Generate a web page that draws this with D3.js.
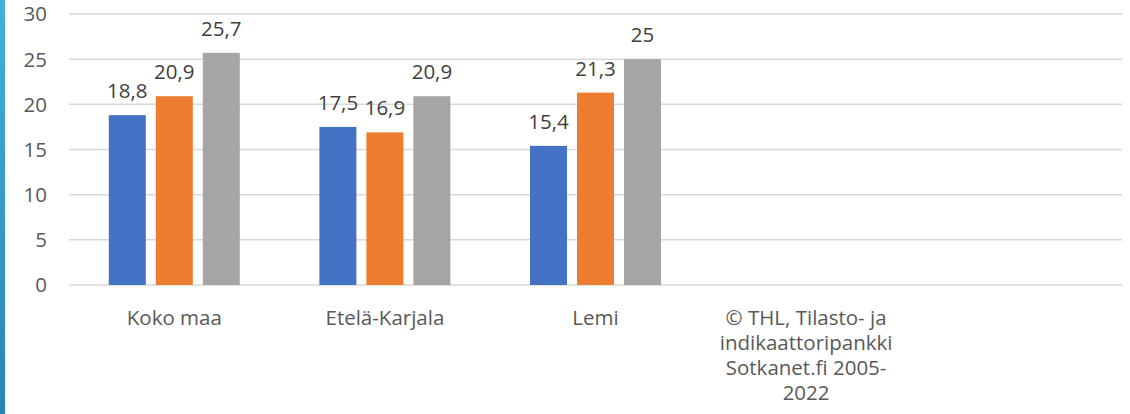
<!DOCTYPE html>
<html><head><meta charset="utf-8">
<script src="https://cdn.jsdelivr.net/npm/d3@7"></script>
<style>body{margin:0;background:#fff;overflow:hidden}svg{display:block}</style>
</head><body>
<svg id="c" width="1130" height="414"></svg>
<script>
const categories = ["Koko maa", "Etelä-Karjala", "Lemi", "© THL, Tilasto- ja indikaattoripankki Sotkanet.fi 2005-2022", ""];
const categoryLines = [["Koko maa"], ["Etelä-Karjala"], ["Lemi"], ["© THL, Tilasto- ja", "indikaattoripankki", "Sotkanet.fi 2005-", "2022"], []];
const series1 = [18.8, 17.5, 15.4, null, null];
const series2 = [20.9, 16.9, 21.3, null, null];
const series3 = [25.7, 20.9, 25.0, null, null];
const seriesColors = ["#4472c4", "#ed7d31", "#a5a5a5"];
const yTicks = [0, 5, 10, 15, 20, 25, 30];

(function(){
const svg = d3.select("#c");
const font = "'Open Sans', sans-serif";
const fs = 20.5;
const defs = svg.append("defs");
const g = defs.append("linearGradient").attr("id","stripe").attr("x1",0).attr("y1",0).attr("x2",0).attr("y2",1);
g.append("stop").attr("offset","0%").attr("stop-color","#41b1d9");
g.append("stop").attr("offset","100%").attr("stop-color","#2a84b3");
svg.append("rect").attr("x",0).attr("y",0).attr("width",5).attr("height",414).attr("fill","url(#stripe)");

const mLeft = 69, mRight = 1122, mTop = 14, mBottom = 285;
const x = d3.scaleBand().domain(d3.range(categories.length)).range([mLeft, mRight]);
const y = d3.scaleLinear().domain([0, 30]).range([mBottom, mTop]);
const barW = 37, barStep = 47;

svg.append("g").selectAll("line").data(yTicks).join("line")
  .attr("x1", mLeft).attr("x2", mRight)
  .attr("y1", d => y(d)).attr("y2", d => y(d))
  .attr("stroke", "#d9d9d9").attr("stroke-width", 1.5);

svg.append("g").selectAll("text").data(yTicks).join("text")
  .attr("x", 47).attr("y", d => y(d)).attr("dy", "0.36em")
  .attr("text-anchor", "end").attr("font-family", font).attr("font-size", fs)
  .attr("fill", "#595959").text(d => d);

const all = [series1, series2, series3];
const data = [];
all.forEach((s, si) => s.forEach((v, ci) => { if (v != null) data.push({si, ci, v}); }));
const bx = d => x(d.ci) + x.bandwidth()/2 - barW/2 + (d.si - 1) * barStep;

svg.append("g").selectAll("rect").data(data).join("rect")
  .attr("x", bx).attr("width", barW)
  .attr("y", d => y(d.v)).attr("height", d => y(0) - y(d.v))
  .attr("fill", d => seriesColors[d.si]);

svg.append("g").selectAll("text").data(data).join("text")
  .attr("x", d => bx(d) + barW/2).attr("y", d => y(d.v) - 17)
  .attr("text-anchor", "middle").attr("font-family", font).attr("font-size", fs)
  .attr("fill", "#404040").text(d => d3.format(".1f")(d.v).replace(".0","").replace(".", ","));

const cg = svg.append("g").selectAll("text").data(categoryLines).join("text")
  .attr("text-anchor", "middle").attr("font-family", font).attr("font-size", fs)
  .attr("fill", "#595959");
cg.each(function(lines, i) {
  d3.select(this).selectAll("tspan").data(lines).join("tspan")
    .attr("x", x(i) + x.bandwidth()/2).attr("y", (d, j) => 325 + j * 25).text(d => d);
});
})();
</script>
</body></html>
